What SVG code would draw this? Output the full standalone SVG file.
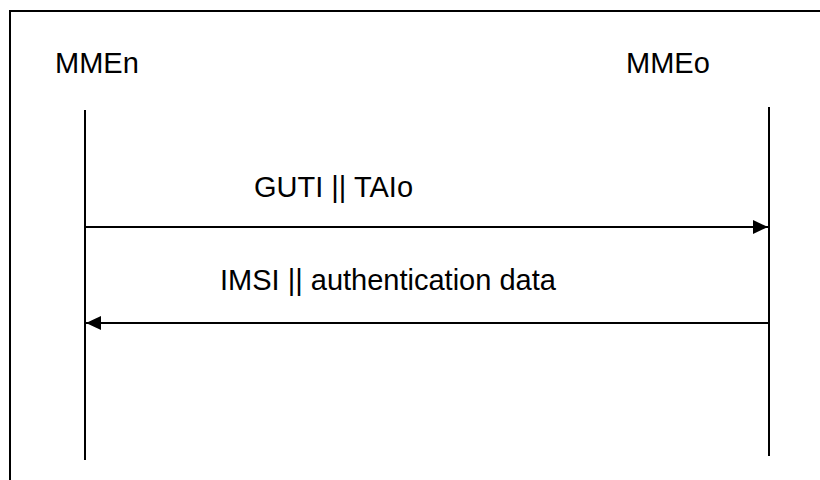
<svg xmlns="http://www.w3.org/2000/svg" width="820" height="480" viewBox="0 0 820 480">
<style>
.lbl{font-family:"Liberation Sans",Arial,sans-serif;font-size:29px;fill:#000}
.ln{stroke:#000;stroke-width:2;fill:none}
</style>
<defs>
<marker id="ah" markerWidth="15" markerHeight="14" refX="15" refY="7" orient="auto" markerUnits="userSpaceOnUse">
<path d="M0,0 L15,7 L0,14 Z" fill="#000"/>
</marker>
</defs>
<rect width="820" height="480" fill="#fff"/>
<rect x="10" y="11" width="830" height="500" class="ln" stroke-width="2.5"/>
<g id="mmen">
<text class="lbl" x="55" y="73">MMEn</text>
<line class="ln" x1="85" y1="110" x2="85" y2="460"/>
</g>
<g id="mmeo">
<text class="lbl" x="626" y="73">MMEo</text>
<line class="ln" x1="769" y1="107" x2="769" y2="456"/>
</g>
<g id="connectors">
<line class="ln" x1="85" y1="227" x2="768" y2="227" marker-end="url(#ah)"/>
<text class="lbl" x="254" y="197">GUTI || TAIo</text>
<line class="ln" x1="769" y1="323" x2="86" y2="323" marker-end="url(#ah)"/>
<text class="lbl" x="220" y="290">IMSI || authentication data</text>
</g>
</svg>
